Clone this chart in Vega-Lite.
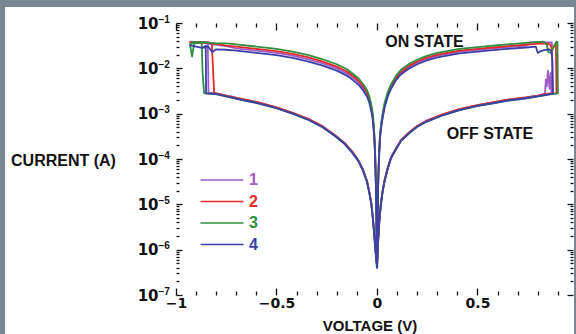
{
"$schema":"https://vega.github.io/schema/vega-lite/v6.json",
"width":569,"height":327,
"autosize":{"type":"none"},
"padding":{"left":5,"top":7,"right":2,"bottom":0},
"background":"#7a8792",
"config":{"view":{"fill":"white","stroke":null},
 "axis":{"domain":false,"grid":false,"tickColor":"#111","tickWidth":1.3,"labelColor":"#111","labelFont":"DejaVu Sans","labelFontWeight":"bold","labelFontSize":14,"titleFont":"Liberation Sans","titleFontWeight":"bold","titleFontSize":15,"titleColor":"#111","labelOverlap":false,"labelBound":false,"labelFlush":false}},
"datasets":{"d":[
{"c":"1","o":1,"v":-0.001,"i":5.012e-7},{"c":"1","o":2,"v":-0.003,"i":5.888e-7},{"c":"1","o":3,"v":-0.008,"i":1.047e-6},{"c":"1","o":4,"v":-0.014,"i":2.344e-6},{"c":"1","o":5,"v":-0.021,"i":5.248e-6},{"c":"1","o":6,"v":-0.028,"i":1.047e-5},{"c":"1","o":7,"v":-0.038,"i":1.862e-5},{"c":"1","o":8,"v":-0.05,"i":3.311e-5},{"c":"1","o":9,"v":-0.071,"i":6.026e-5},{"c":"1","o":10,"v":-0.095,"i":9.772e-5},{"c":"1","o":11,"v":-0.121,"i":1.413e-4},{"c":"1","o":12,"v":-0.16,"i":2.239e-4},{"c":"1","o":13,"v":-0.204,"i":3.236e-4},{"c":"1","o":14,"v":-0.27,"i":5.248e-4},{"c":"1","o":15,"v":-0.34,"i":7.586e-4},{"c":"1","o":16,"v":-0.42,"i":1.047e-3},{"c":"1","o":17,"v":-0.5,"i":1.38e-3},{"c":"1","o":18,"v":-0.6,"i":1.82e-3},{"c":"1","o":19,"v":-0.668,"i":2.089e-3},{"c":"1","o":20,"v":-0.75,"i":2.512e-3},{"c":"1","o":21,"v":-0.8,"i":2.818e-3},{"c":"1","o":22,"v":-0.838,"i":2.9e-3},{"c":"1","o":23,"v":-0.842,"i":3.802e-2},{"c":"1","o":24,"v":-0.88,"i":3.802e-2},{"c":"1","o":25,"v":-0.93,"i":3.89e-2},{"c":"1","o":26,"v":-0.88,"i":3.802e-2},{"c":"1","o":27,"v":-0.85,"i":3.548e-2},{"c":"1","o":28,"v":-0.8,"i":3.311e-2},{"c":"1","o":29,"v":-0.75,"i":3.09e-2},{"c":"1","o":30,"v":-0.7,"i":2.754e-2},{"c":"1","o":31,"v":-0.6,"i":2.455e-2},{"c":"1","o":32,"v":-0.5,"i":2.188e-2},{"c":"1","o":33,"v":-0.42,"i":1.905e-2},{"c":"1","o":34,"v":-0.34,"i":1.585e-2},{"c":"1","o":35,"v":-0.27,"i":1.288e-2},{"c":"1","o":36,"v":-0.2,"i":1.0e-2},{"c":"1","o":37,"v":-0.15,"i":7.762e-3},{"c":"1","o":38,"v":-0.12,"i":6.166e-3},{"c":"1","o":39,"v":-0.09,"i":4.786e-3},{"c":"1","o":40,"v":-0.07,"i":3.715e-3},{"c":"1","o":41,"v":-0.05,"i":2.692e-3},{"c":"1","o":42,"v":-0.038,"i":1.95e-3},{"c":"1","o":43,"v":-0.028,"i":1.259e-3},{"c":"1","o":44,"v":-0.021,"i":8.128e-4},{"c":"1","o":45,"v":-0.015,"i":3.981e-4},{"c":"1","o":46,"v":-0.01,"i":1.514e-4},{"c":"1","o":47,"v":-0.006,"i":3.548e-5},{"c":"1","o":48,"v":-0.003,"i":5.623e-6},{"c":"1","o":49,"v":-0.001,"i":7.943e-7},{"c":"1","o":50,"v":0.001,"i":7.943e-7},{"c":"1","o":51,"v":0.003,"i":5.495e-6},{"c":"1","o":52,"v":0.006,"i":3.09e-5},{"c":"1","o":53,"v":0.01,"i":1.096e-4},{"c":"1","o":54,"v":0.015,"i":3.09e-4},{"c":"1","o":55,"v":0.021,"i":5.495e-4},{"c":"1","o":56,"v":0.028,"i":8.71e-4},{"c":"1","o":57,"v":0.038,"i":1.514e-3},{"c":"1","o":58,"v":0.053,"i":2.57e-3},{"c":"1","o":59,"v":0.07,"i":3.89e-3},{"c":"1","o":60,"v":0.095,"i":6.026e-3},{"c":"1","o":61,"v":0.12,"i":8.128e-3},{"c":"1","o":62,"v":0.161,"i":1.096e-2},{"c":"1","o":63,"v":0.2,"i":1.349e-2},{"c":"1","o":64,"v":0.244,"i":1.622e-2},{"c":"1","o":65,"v":0.3,"i":1.905e-2},{"c":"1","o":66,"v":0.41,"i":2.344e-2},{"c":"1","o":67,"v":0.5,"i":2.57e-2},{"c":"1","o":68,"v":0.576,"i":2.754e-2},{"c":"1","o":69,"v":0.65,"i":2.951e-2},{"c":"1","o":70,"v":0.741,"i":3.162e-2},{"c":"1","o":71,"v":0.76,"i":3.715e-2},{"c":"1","o":72,"v":0.87,"i":3.715e-2},{"c":"1","o":73,"v":0.875,"i":2.884e-3},{"c":"1","o":74,"v":0.868,"i":2.951e-3},{"c":"1","o":75,"v":0.864,"i":7.943e-3},{"c":"1","o":76,"v":0.859,"i":3.548e-3},{"c":"1","o":77,"v":0.855,"i":5.623e-3},{"c":"1","o":78,"v":0.85,"i":8.913e-3},{"c":"1","o":79,"v":0.845,"i":3.981e-3},{"c":"1","o":80,"v":0.84,"i":5.623e-3},{"c":"1","o":81,"v":0.836,"i":2.754e-3},{"c":"1","o":82,"v":0.8,"i":2.512e-3},{"c":"1","o":83,"v":0.741,"i":2.291e-3},{"c":"1","o":84,"v":0.65,"i":2.042e-3},{"c":"1","o":85,"v":0.576,"i":1.778e-3},{"c":"1","o":86,"v":0.5,"i":1.549e-3},{"c":"1","o":87,"v":0.41,"i":1.259e-3},{"c":"1","o":88,"v":0.33,"i":9.772e-4},{"c":"1","o":89,"v":0.244,"i":6.918e-4},{"c":"1","o":90,"v":0.2,"i":5.37e-4},{"c":"1","o":91,"v":0.161,"i":3.89e-4},{"c":"1","o":92,"v":0.12,"i":2.63e-4},{"c":"1","o":93,"v":0.095,"i":1.738e-4},{"c":"1","o":94,"v":0.07,"i":1.096e-4},{"c":"1","o":95,"v":0.053,"i":6.31e-5},{"c":"1","o":96,"v":0.038,"i":3.467e-5},{"c":"1","o":97,"v":0.028,"i":1.995e-5},{"c":"1","o":98,"v":0.018,"i":9.333e-6},{"c":"1","o":99,"v":0.012,"i":4.677e-6},{"c":"1","o":100,"v":0.006,"i":1.66e-6},{"c":"1","o":101,"v":0.003,"i":8.318e-7},{"c":"1","o":102,"v":0.001,"i":5.012e-7},
{"c":"2","o":1,"v":-0.001,"i":5.012e-7},{"c":"2","o":2,"v":-0.003,"i":5.888e-7},{"c":"2","o":3,"v":-0.008,"i":1.047e-6},{"c":"2","o":4,"v":-0.014,"i":2.344e-6},{"c":"2","o":5,"v":-0.021,"i":5.248e-6},{"c":"2","o":6,"v":-0.028,"i":1.047e-5},{"c":"2","o":7,"v":-0.038,"i":1.862e-5},{"c":"2","o":8,"v":-0.05,"i":3.311e-5},{"c":"2","o":9,"v":-0.071,"i":6.026e-5},{"c":"2","o":10,"v":-0.095,"i":9.772e-5},{"c":"2","o":11,"v":-0.121,"i":1.413e-4},{"c":"2","o":12,"v":-0.16,"i":2.239e-4},{"c":"2","o":13,"v":-0.204,"i":3.236e-4},{"c":"2","o":14,"v":-0.27,"i":5.248e-4},{"c":"2","o":15,"v":-0.34,"i":7.586e-4},{"c":"2","o":16,"v":-0.42,"i":1.047e-3},{"c":"2","o":17,"v":-0.5,"i":1.38e-3},{"c":"2","o":18,"v":-0.6,"i":1.82e-3},{"c":"2","o":19,"v":-0.668,"i":2.089e-3},{"c":"2","o":20,"v":-0.75,"i":2.512e-3},{"c":"2","o":21,"v":-0.8,"i":2.818e-3},{"c":"2","o":22,"v":-0.81,"i":2.85e-3},{"c":"2","o":23,"v":-0.822,"i":3.631e-2},{"c":"2","o":24,"v":-0.85,"i":3.715e-2},{"c":"2","o":25,"v":-0.93,"i":3.715e-2},{"c":"2","o":26,"v":-0.85,"i":3.715e-2},{"c":"2","o":27,"v":-0.8,"i":3.467e-2},{"c":"2","o":28,"v":-0.75,"i":3.162e-2},{"c":"2","o":29,"v":-0.7,"i":3.02e-2},{"c":"2","o":30,"v":-0.6,"i":2.692e-2},{"c":"2","o":31,"v":-0.5,"i":2.399e-2},{"c":"2","o":32,"v":-0.42,"i":2.089e-2},{"c":"2","o":33,"v":-0.34,"i":1.738e-2},{"c":"2","o":34,"v":-0.27,"i":1.413e-2},{"c":"2","o":35,"v":-0.2,"i":1.096e-2},{"c":"2","o":36,"v":-0.15,"i":8.511e-3},{"c":"2","o":37,"v":-0.12,"i":6.761e-3},{"c":"2","o":38,"v":-0.09,"i":5.248e-3},{"c":"2","o":39,"v":-0.07,"i":4.074e-3},{"c":"2","o":40,"v":-0.05,"i":2.951e-3},{"c":"2","o":41,"v":-0.038,"i":2.138e-3},{"c":"2","o":42,"v":-0.028,"i":1.38e-3},{"c":"2","o":43,"v":-0.021,"i":8.913e-4},{"c":"2","o":44,"v":-0.015,"i":4.365e-4},{"c":"2","o":45,"v":-0.01,"i":1.66e-4},{"c":"2","o":46,"v":-0.006,"i":3.802e-5},{"c":"2","o":47,"v":-0.003,"i":6.026e-6},{"c":"2","o":48,"v":-0.001,"i":8.913e-7},{"c":"2","o":49,"v":0.001,"i":8.913e-7},{"c":"2","o":50,"v":0.003,"i":5.754e-6},{"c":"2","o":51,"v":0.006,"i":3.236e-5},{"c":"2","o":52,"v":0.01,"i":1.148e-4},{"c":"2","o":53,"v":0.015,"i":3.236e-4},{"c":"2","o":54,"v":0.021,"i":5.754e-4},{"c":"2","o":55,"v":0.028,"i":9.12e-4},{"c":"2","o":56,"v":0.038,"i":1.585e-3},{"c":"2","o":57,"v":0.053,"i":2.692e-3},{"c":"2","o":58,"v":0.07,"i":4.074e-3},{"c":"2","o":59,"v":0.095,"i":6.31e-3},{"c":"2","o":60,"v":0.12,"i":8.511e-3},{"c":"2","o":61,"v":0.161,"i":1.148e-2},{"c":"2","o":62,"v":0.2,"i":1.413e-2},{"c":"2","o":63,"v":0.244,"i":1.698e-2},{"c":"2","o":64,"v":0.3,"i":1.995e-2},{"c":"2","o":65,"v":0.41,"i":2.455e-2},{"c":"2","o":66,"v":0.5,"i":2.692e-2},{"c":"2","o":67,"v":0.576,"i":2.884e-2},{"c":"2","o":68,"v":0.65,"i":3.09e-2},{"c":"2","o":69,"v":0.741,"i":3.311e-2},{"c":"2","o":70,"v":0.79,"i":3.467e-2},{"c":"2","o":71,"v":0.84,"i":3.548e-2},{"c":"2","o":72,"v":0.86,"i":3.388e-2},{"c":"2","o":73,"v":0.872,"i":2.63e-2},{"c":"2","o":74,"v":0.882,"i":3.162e-2},{"c":"2","o":75,"v":0.89,"i":3.631e-2},{"c":"2","o":76,"v":0.893,"i":2.818e-3},{"c":"2","o":77,"v":0.85,"i":2.754e-3},{"c":"2","o":78,"v":0.8,"i":2.512e-3},{"c":"2","o":79,"v":0.741,"i":2.291e-3},{"c":"2","o":80,"v":0.65,"i":2.042e-3},{"c":"2","o":81,"v":0.576,"i":1.778e-3},{"c":"2","o":82,"v":0.5,"i":1.549e-3},{"c":"2","o":83,"v":0.41,"i":1.259e-3},{"c":"2","o":84,"v":0.33,"i":9.772e-4},{"c":"2","o":85,"v":0.244,"i":6.918e-4},{"c":"2","o":86,"v":0.2,"i":5.37e-4},{"c":"2","o":87,"v":0.161,"i":3.89e-4},{"c":"2","o":88,"v":0.12,"i":2.63e-4},{"c":"2","o":89,"v":0.095,"i":1.738e-4},{"c":"2","o":90,"v":0.07,"i":1.096e-4},{"c":"2","o":91,"v":0.053,"i":6.31e-5},{"c":"2","o":92,"v":0.038,"i":3.467e-5},{"c":"2","o":93,"v":0.028,"i":1.995e-5},{"c":"2","o":94,"v":0.018,"i":9.333e-6},{"c":"2","o":95,"v":0.012,"i":4.677e-6},{"c":"2","o":96,"v":0.006,"i":1.66e-6},{"c":"2","o":97,"v":0.003,"i":8.318e-7},{"c":"2","o":98,"v":0.001,"i":5.012e-7},
{"c":"3","o":1,"v":-0.001,"i":4.467e-7},{"c":"3","o":2,"v":-0.003,"i":5.623e-7},{"c":"3","o":3,"v":-0.008,"i":1.0e-6},{"c":"3","o":4,"v":-0.014,"i":2.239e-6},{"c":"3","o":5,"v":-0.021,"i":5.012e-6},{"c":"3","o":6,"v":-0.028,"i":1.0e-5},{"c":"3","o":7,"v":-0.038,"i":1.778e-5},{"c":"3","o":8,"v":-0.05,"i":3.162e-5},{"c":"3","o":9,"v":-0.071,"i":5.754e-5},{"c":"3","o":10,"v":-0.095,"i":9.333e-5},{"c":"3","o":11,"v":-0.121,"i":1.349e-4},{"c":"3","o":12,"v":-0.16,"i":2.138e-4},{"c":"3","o":13,"v":-0.204,"i":3.09e-4},{"c":"3","o":14,"v":-0.27,"i":5.012e-4},{"c":"3","o":15,"v":-0.34,"i":7.244e-4},{"c":"3","o":16,"v":-0.42,"i":1.0e-3},{"c":"3","o":17,"v":-0.5,"i":1.318e-3},{"c":"3","o":18,"v":-0.6,"i":1.738e-3},{"c":"3","o":19,"v":-0.668,"i":1.995e-3},{"c":"3","o":20,"v":-0.75,"i":2.399e-3},{"c":"3","o":21,"v":-0.8,"i":2.692e-3},{"c":"3","o":22,"v":-0.85,"i":2.818e-3},{"c":"3","o":23,"v":-0.86,"i":2.818e-3},{"c":"3","o":24,"v":-0.868,"i":8.511e-3},{"c":"3","o":25,"v":-0.872,"i":3.715e-2},{"c":"3","o":26,"v":-0.91,"i":3.548e-2},{"c":"3","o":27,"v":-0.92,"i":1.82e-2},{"c":"3","o":28,"v":-0.93,"i":3.311e-2},{"c":"3","o":29,"v":-0.915,"i":3.802e-2},{"c":"3","o":30,"v":-0.88,"i":3.802e-2},{"c":"3","o":31,"v":-0.85,"i":3.715e-2},{"c":"3","o":32,"v":-0.8,"i":3.548e-2},{"c":"3","o":33,"v":-0.75,"i":3.548e-2},{"c":"3","o":34,"v":-0.7,"i":3.388e-2},{"c":"3","o":35,"v":-0.6,"i":3.02e-2},{"c":"3","o":36,"v":-0.5,"i":2.692e-2},{"c":"3","o":37,"v":-0.42,"i":2.344e-2},{"c":"3","o":38,"v":-0.34,"i":1.95e-2},{"c":"3","o":39,"v":-0.27,"i":1.585e-2},{"c":"3","o":40,"v":-0.2,"i":1.23e-2},{"c":"3","o":41,"v":-0.15,"i":9.55e-3},{"c":"3","o":42,"v":-0.12,"i":7.586e-3},{"c":"3","o":43,"v":-0.09,"i":5.888e-3},{"c":"3","o":44,"v":-0.07,"i":4.571e-3},{"c":"3","o":45,"v":-0.05,"i":3.311e-3},{"c":"3","o":46,"v":-0.038,"i":2.399e-3},{"c":"3","o":47,"v":-0.028,"i":1.549e-3},{"c":"3","o":48,"v":-0.021,"i":1.0e-3},{"c":"3","o":49,"v":-0.015,"i":4.898e-4},{"c":"3","o":50,"v":-0.01,"i":1.862e-4},{"c":"3","o":51,"v":-0.006,"i":4.169e-5},{"c":"3","o":52,"v":-0.003,"i":6.607e-6},{"c":"3","o":53,"v":-0.001,"i":1.0e-6},{"c":"3","o":54,"v":0.001,"i":1.0e-6},{"c":"3","o":55,"v":0.003,"i":6.31e-6},{"c":"3","o":56,"v":0.006,"i":3.548e-5},{"c":"3","o":57,"v":0.01,"i":1.259e-4},{"c":"3","o":58,"v":0.015,"i":3.548e-4},{"c":"3","o":59,"v":0.021,"i":6.31e-4},{"c":"3","o":60,"v":0.028,"i":1.0e-3},{"c":"3","o":61,"v":0.038,"i":1.738e-3},{"c":"3","o":62,"v":0.053,"i":2.951e-3},{"c":"3","o":63,"v":0.07,"i":4.467e-3},{"c":"3","o":64,"v":0.095,"i":6.918e-3},{"c":"3","o":65,"v":0.12,"i":9.333e-3},{"c":"3","o":66,"v":0.161,"i":1.259e-2},{"c":"3","o":67,"v":0.2,"i":1.549e-2},{"c":"3","o":68,"v":0.244,"i":1.862e-2},{"c":"3","o":69,"v":0.3,"i":2.188e-2},{"c":"3","o":70,"v":0.41,"i":2.692e-2},{"c":"3","o":71,"v":0.5,"i":2.951e-2},{"c":"3","o":72,"v":0.576,"i":3.162e-2},{"c":"3","o":73,"v":0.65,"i":3.388e-2},{"c":"3","o":74,"v":0.741,"i":3.631e-2},{"c":"3","o":75,"v":0.79,"i":3.802e-2},{"c":"3","o":76,"v":0.83,"i":3.89e-2},{"c":"3","o":77,"v":0.845,"i":3.311e-2},{"c":"3","o":78,"v":0.852,"i":2.291e-2},{"c":"3","o":79,"v":0.866,"i":2.188e-2},{"c":"3","o":80,"v":0.88,"i":3.02e-2},{"c":"3","o":81,"v":0.893,"i":3.89e-2},{"c":"3","o":82,"v":0.898,"i":3.802e-2},{"c":"3","o":83,"v":0.9,"i":2.818e-3},{"c":"3","o":84,"v":0.85,"i":2.63e-3},{"c":"3","o":85,"v":0.8,"i":2.399e-3},{"c":"3","o":86,"v":0.741,"i":2.188e-3},{"c":"3","o":87,"v":0.65,"i":1.95e-3},{"c":"3","o":88,"v":0.576,"i":1.698e-3},{"c":"3","o":89,"v":0.5,"i":1.479e-3},{"c":"3","o":90,"v":0.41,"i":1.202e-3},{"c":"3","o":91,"v":0.33,"i":9.333e-4},{"c":"3","o":92,"v":0.244,"i":6.607e-4},{"c":"3","o":93,"v":0.2,"i":5.129e-4},{"c":"3","o":94,"v":0.161,"i":3.715e-4},{"c":"3","o":95,"v":0.12,"i":2.512e-4},{"c":"3","o":96,"v":0.095,"i":1.66e-4},{"c":"3","o":97,"v":0.07,"i":1.047e-4},{"c":"3","o":98,"v":0.053,"i":6.026e-5},{"c":"3","o":99,"v":0.038,"i":3.311e-5},{"c":"3","o":100,"v":0.028,"i":1.905e-5},{"c":"3","o":101,"v":0.018,"i":8.913e-6},{"c":"3","o":102,"v":0.012,"i":4.467e-6},{"c":"3","o":103,"v":0.006,"i":1.585e-6},{"c":"3","o":104,"v":0.003,"i":7.943e-7},{"c":"3","o":105,"v":0.001,"i":4.467e-7},
{"c":"4","o":1,"v":-0.001,"i":4.467e-7},{"c":"4","o":2,"v":-0.003,"i":5.623e-7},{"c":"4","o":3,"v":-0.008,"i":1.0e-6},{"c":"4","o":4,"v":-0.014,"i":2.239e-6},{"c":"4","o":5,"v":-0.021,"i":5.012e-6},{"c":"4","o":6,"v":-0.028,"i":1.0e-5},{"c":"4","o":7,"v":-0.038,"i":1.778e-5},{"c":"4","o":8,"v":-0.05,"i":3.162e-5},{"c":"4","o":9,"v":-0.071,"i":5.754e-5},{"c":"4","o":10,"v":-0.095,"i":9.333e-5},{"c":"4","o":11,"v":-0.121,"i":1.349e-4},{"c":"4","o":12,"v":-0.16,"i":2.138e-4},{"c":"4","o":13,"v":-0.204,"i":3.09e-4},{"c":"4","o":14,"v":-0.27,"i":5.012e-4},{"c":"4","o":15,"v":-0.34,"i":7.244e-4},{"c":"4","o":16,"v":-0.42,"i":1.0e-3},{"c":"4","o":17,"v":-0.5,"i":1.318e-3},{"c":"4","o":18,"v":-0.6,"i":1.738e-3},{"c":"4","o":19,"v":-0.668,"i":1.995e-3},{"c":"4","o":20,"v":-0.75,"i":2.399e-3},{"c":"4","o":21,"v":-0.8,"i":2.692e-3},{"c":"4","o":22,"v":-0.85,"i":2.818e-3},{"c":"4","o":23,"v":-0.852,"i":3.162e-2},{"c":"4","o":24,"v":-0.87,"i":2.818e-2},{"c":"4","o":25,"v":-0.9,"i":3.02e-2},{"c":"4","o":26,"v":-0.93,"i":3.236e-2},{"c":"4","o":27,"v":-0.9,"i":3.02e-2},{"c":"4","o":28,"v":-0.87,"i":2.818e-2},{"c":"4","o":29,"v":-0.84,"i":3.02e-2},{"c":"4","o":30,"v":-0.82,"i":2.291e-2},{"c":"4","o":31,"v":-0.8,"i":2.63e-2},{"c":"4","o":32,"v":-0.75,"i":2.57e-2},{"c":"4","o":33,"v":-0.7,"i":2.455e-2},{"c":"4","o":34,"v":-0.6,"i":2.188e-2},{"c":"4","o":35,"v":-0.5,"i":1.95e-2},{"c":"4","o":36,"v":-0.42,"i":1.698e-2},{"c":"4","o":37,"v":-0.34,"i":1.413e-2},{"c":"4","o":38,"v":-0.27,"i":1.148e-2},{"c":"4","o":39,"v":-0.2,"i":8.913e-3},{"c":"4","o":40,"v":-0.15,"i":6.918e-3},{"c":"4","o":41,"v":-0.12,"i":5.495e-3},{"c":"4","o":42,"v":-0.09,"i":4.266e-3},{"c":"4","o":43,"v":-0.07,"i":3.311e-3},{"c":"4","o":44,"v":-0.05,"i":2.399e-3},{"c":"4","o":45,"v":-0.038,"i":1.738e-3},{"c":"4","o":46,"v":-0.028,"i":1.122e-3},{"c":"4","o":47,"v":-0.021,"i":7.244e-4},{"c":"4","o":48,"v":-0.015,"i":3.548e-4},{"c":"4","o":49,"v":-0.01,"i":1.349e-4},{"c":"4","o":50,"v":-0.006,"i":3.162e-5},{"c":"4","o":51,"v":-0.003,"i":5.012e-6},{"c":"4","o":52,"v":-0.001,"i":3.981e-7},{"c":"4","o":53,"v":0.001,"i":3.981e-7},{"c":"4","o":54,"v":0.003,"i":5.012e-6},{"c":"4","o":55,"v":0.006,"i":2.818e-5},{"c":"4","o":56,"v":0.01,"i":1.0e-4},{"c":"4","o":57,"v":0.015,"i":2.818e-4},{"c":"4","o":58,"v":0.021,"i":5.012e-4},{"c":"4","o":59,"v":0.028,"i":7.943e-4},{"c":"4","o":60,"v":0.038,"i":1.38e-3},{"c":"4","o":61,"v":0.053,"i":2.344e-3},{"c":"4","o":62,"v":0.07,"i":3.548e-3},{"c":"4","o":63,"v":0.095,"i":5.495e-3},{"c":"4","o":64,"v":0.12,"i":7.413e-3},{"c":"4","o":65,"v":0.161,"i":1.0e-2},{"c":"4","o":66,"v":0.2,"i":1.23e-2},{"c":"4","o":67,"v":0.244,"i":1.479e-2},{"c":"4","o":68,"v":0.3,"i":1.738e-2},{"c":"4","o":69,"v":0.41,"i":2.138e-2},{"c":"4","o":70,"v":0.5,"i":2.344e-2},{"c":"4","o":71,"v":0.576,"i":2.512e-2},{"c":"4","o":72,"v":0.65,"i":2.692e-2},{"c":"4","o":73,"v":0.741,"i":2.884e-2},{"c":"4","o":74,"v":0.79,"i":3.02e-2},{"c":"4","o":75,"v":0.8,"i":2.188e-2},{"c":"4","o":76,"v":0.81,"i":2.344e-2},{"c":"4","o":77,"v":0.83,"i":2.512e-2},{"c":"4","o":78,"v":0.857,"i":2.63e-2},{"c":"4","o":79,"v":0.868,"i":2.399e-2},{"c":"4","o":80,"v":0.872,"i":1.585e-2},{"c":"4","o":81,"v":0.875,"i":2.754e-3},{"c":"4","o":82,"v":0.85,"i":2.63e-3},{"c":"4","o":83,"v":0.8,"i":2.399e-3},{"c":"4","o":84,"v":0.741,"i":2.188e-3},{"c":"4","o":85,"v":0.65,"i":1.95e-3},{"c":"4","o":86,"v":0.576,"i":1.698e-3},{"c":"4","o":87,"v":0.5,"i":1.479e-3},{"c":"4","o":88,"v":0.41,"i":1.202e-3},{"c":"4","o":89,"v":0.33,"i":9.333e-4},{"c":"4","o":90,"v":0.244,"i":6.607e-4},{"c":"4","o":91,"v":0.2,"i":5.129e-4},{"c":"4","o":92,"v":0.161,"i":3.715e-4},{"c":"4","o":93,"v":0.12,"i":2.512e-4},{"c":"4","o":94,"v":0.095,"i":1.66e-4},{"c":"4","o":95,"v":0.07,"i":1.047e-4},{"c":"4","o":96,"v":0.053,"i":6.026e-5},{"c":"4","o":97,"v":0.038,"i":3.311e-5},{"c":"4","o":98,"v":0.028,"i":1.905e-5},{"c":"4","o":99,"v":0.018,"i":8.913e-6},{"c":"4","o":100,"v":0.012,"i":4.467e-6},{"c":"4","o":101,"v":0.006,"i":1.585e-6},{"c":"4","o":102,"v":0.003,"i":7.943e-7},{"c":"4","o":103,"v":0.001,"i":4.467e-7}
]},
"layer":[
{"data":{"name":"d"},
 "mark":{"type":"line","strokeWidth":1.8,"strokeJoin":"round"},
 "encoding":{
  "x":{"field":"v","type":"quantitative","scale":{"domain":[-1.8507,0.9801],"nice":false,"zero":false},
   "axis":{"orient":"bottom","offset":-39,"values":[-1,-0.9,-0.8,-0.7,-0.6,-0.5,-0.4,-0.3,-0.2,-0.1,0,0.1,0.2,0.3,0.4,0.5,0.6,0.7,0.8,0.9],
    "labelExpr":"abs(datum.value*2 - round(datum.value*2)) < 0.001 ? (datum.value < -0.001 ? '−' + (-datum.value) : '' + datum.value) : ''",
    "tickSize":{"condition":{"test":"abs(datum.value*2 - round(datum.value*2)) < 0.001","value":-7},"value":-4},
    "labelPadding":8.5,"title":"VOLTAGE (V)","titleX":364.5,"titleY":35.5,"titleAlign":"center","titleBaseline":"alphabetic","titleAnchor":null}},
  "y":{"field":"i","type":"quantitative","scale":{"type":"log","domain":[1.38e-8,0.2254],"nice":false},
   "axis":{"orient":"left","offset":-171,"values":[1e-7,2e-7,3e-7,4e-7,5e-7,6e-7,7e-7,8e-7,9e-7,1e-6,2e-6,3e-6,4e-6,5e-6,6e-6,7e-6,8e-6,9e-6,1e-5,2e-5,3e-5,4e-5,5e-5,6e-5,7e-5,8e-5,9e-5,1e-4,2e-4,3e-4,4e-4,5e-4,6e-4,7e-4,8e-4,9e-4,1e-3,2e-3,3e-3,4e-3,5e-3,6e-3,7e-3,8e-3,9e-3,1e-2,2e-2,3e-2,4e-2,5e-2,6e-2,7e-2,8e-2,9e-2,1e-1],
    "labelExpr":"abs(log(datum.value)/LN10 - round(log(datum.value)/LN10)) < 0.01 ? '10' : ''",
    "labelFontSize":15,
    "tickSize":{"condition":{"test":"abs(log(datum.value)/LN10 - round(log(datum.value)/LN10)) < 0.01","value":-6},"value":-3},
    "labelPadding":24,"title":"CURRENT (A)","titleFontSize":16,"titleAngle":0,"titleX":-113,"titleY":158,"titleAlign":"center","titleBaseline":"alphabetic","titleAnchor":null}},
  "color":{"field":"c","type":"nominal","scale":{"domain":["1","2","3","4"],"range":["#a15bc9","#e52a2a","#2f8f3f","#3b3fa6"]},
   "legend":{"orient":"none","legendX":209,"legendY":165,"title":null,"symbolType":"M-4,0H4","symbolSize":115.6,"symbolStrokeWidth":1.5,"labelFont":"Liberation Sans","labelFontWeight":"bold","labelFontSize":16,"labelOffset":19,"rowPadding":5.5,"padding":0,
    "encode":{"labels":{"update":{"fill":{"scale":"color","field":"value"}}}}}},
  "order":{"field":"o","type":"quantitative"}
 }},
{"data":{"values":[{"t":"ON STATE","v":0.236,"i":0.03},{"t":"OFF STATE","v":0.562,"i":2.76e-4}]},
 "mark":{"type":"text","font":"Liberation Sans","fontWeight":"bold","fontSize":16,"baseline":"alphabetic","align":"center","color":"#111"},
 "encoding":{
  "x":{"field":"v","type":"quantitative","scale":{"domain":[-1.8507,0.9801],"nice":false,"zero":false},
   "axis":{"orient":"top","offset":-16,"labels":false,"title":null,"values":[-1,-0.9,-0.8,-0.7,-0.6,-0.5,-0.4,-0.3,-0.2,-0.1,0,0.1,0.2,0.3,0.4,0.5,0.6,0.7,0.8,0.9],
    "tickSize":{"condition":{"test":"abs(datum.value*2 - round(datum.value*2)) < 0.001","value":-7},"value":-4}}},
  "y":{"field":"i","type":"quantitative","scale":{"type":"log","domain":[1.38e-8,0.2254],"nice":false},
   "axis":{"orient":"right","offset":-1,"labels":false,"title":null,"values":[1e-7,2e-7,3e-7,4e-7,5e-7,6e-7,7e-7,8e-7,9e-7,1e-6,2e-6,3e-6,4e-6,5e-6,6e-6,7e-6,8e-6,9e-6,1e-5,2e-5,3e-5,4e-5,5e-5,6e-5,7e-5,8e-5,9e-5,1e-4,2e-4,3e-4,4e-4,5e-4,6e-4,7e-4,8e-4,9e-4,1e-3,2e-3,3e-3,4e-3,5e-3,6e-3,7e-3,8e-3,9e-3,1e-2,2e-2,3e-2,4e-2,5e-2,6e-2,7e-2,8e-2,9e-2,1e-1],
    "tickSize":{"condition":{"test":"abs(log(datum.value)/LN10 - round(log(datum.value)/LN10)) < 0.01","value":-6},"value":-3}}},
  "text":{"field":"t"}
 }},
{"mark":{"type":"rect","fill":null,"fillOpacity":0,"stroke":"#111","strokeWidth":2},
 "encoding":{
  "x":{"datum":-1,"type":"quantitative","scale":{"domain":[-1.8507,0.9801],"nice":false,"zero":false},"axis":null},
  "x2":{"datum":0.975},
  "y":{"datum":1e-7,"type":"quantitative","scale":{"type":"log","domain":[1.38e-8,0.2254],"nice":false},
   "axis":{"orient":"left","offset":-171,"values":[1e-7,1e-6,1e-5,1e-4,1e-3,1e-2,1e-1],"ticks":false,"domain":false,"title":null,
    "labelExpr":"'−' + (-round(log(datum.value)/LN10))","labelAlign":"left","labelPadding":18,"labelFont":"Liberation Sans","labelFontSize":10,"labelFontWeight":"bold","labelOffset":-4,"labelBaseline":"middle"}},
  "y2":{"datum":0.1}
 }}
],
"resolve":{"axis":{"x":"independent","y":"independent"}}
}
